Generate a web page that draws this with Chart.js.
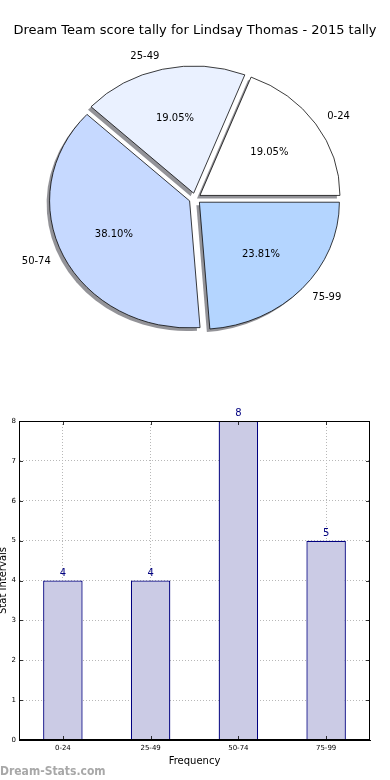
<!DOCTYPE html>
<html><head><meta charset="utf-8">
<script src="https://cdn.jsdelivr.net/npm/chart.js@4"></script>
<style>
html,body{margin:0;padding:0;background:#fff;width:390px;height:780px;overflow:hidden;position:relative;font-family:"DejaVu Sans",sans-serif}
#pieWrap{position:absolute;left:0;top:0;width:390px;height:397px}
#title{position:absolute;left:0;top:21px;width:390px;text-align:center;font-size:13px;line-height:18px;color:#000;white-space:nowrap}
#barWrap{position:absolute;left:0;top:400px;width:390px;height:380px}
#wm{position:absolute;left:0;top:763px;font-family:"DejaVu Sans Condensed","DejaVu Sans",sans-serif;font-stretch:condensed;font-size:12px;line-height:16px;font-weight:bold;color:#a8a8a8;white-space:nowrap}
</style></head><body>
<div id="pieWrap"><canvas id="pie"></canvas></div>
<div id="title">Dream Team score tally for Lindsay Thomas - 2015 tally</div>
<div id="barWrap"><canvas id="bar"></canvas></div>
<div id="wm">Dream-Stats.com</div>
<script>
// ---- data ----
const categories = ['0-24', '25-49', '50-74', '75-99'];
const counts = [4, 4, 8, 5];
const sliceColors = ['#ffffff', '#eaf1ff', '#c6d9ff', '#b4d5ff'];
const yTicks = [0, 1, 2, 3, 4, 5, 6, 7, 8];

Chart.defaults.font.family = '"DejaVu Sans", sans-serif';
Chart.defaults.color = '#000';

const total = counts.reduce((a, b) => a + b, 0);
const pctLabels = counts.map(c => (c / total * 100).toFixed(2) + '%');

// pie drawn counter-clockwise from 3 o'clock (reverse order, clockwise)
const order = [3, 2, 1, 0];
const K = 0.908;      // vertical squash of the pie
const SHIFT = 6;      // explode distance in px
const R = 140;

const pieFx = {
  id: 'pieFx',
  afterDatasetsUpdate(chart) {
    // explode: move each slice centre outward along its mid angle
    chart.getDatasetMeta(0).data.forEach(arc => {
      const mid = (arc.startAngle + arc.endAngle) / 2;
      arc.x += Math.cos(mid) * SHIFT;
      arc.y += Math.sin(mid) * SHIFT;
    });
  },
  beforeDatasetsDraw(chart) {
    const ctx = chart.ctx, a = chart.chartArea;
    const cx = (a.left + a.right) / 2, cy = (a.top + a.bottom) / 2;
    ctx.save();
    ctx.translate(cx, cy); ctx.scale(1, K); ctx.translate(-cx, -cy);
    // shadows
    ctx.save();
    ctx.translate(-3, 3 / K);
    ctx.fillStyle = 'rgba(40,40,50,0.5)';
    chart.getDatasetMeta(0).data.forEach(arc => {
      ctx.beginPath();
      ctx.moveTo(arc.x, arc.y);
      ctx.arc(arc.x, arc.y, arc.outerRadius, arc.startAngle, arc.endAngle);
      ctx.closePath();
      ctx.fill();
    });
    ctx.restore();
  },
  afterDatasetsDraw(chart) {
    const ctx = chart.ctx;
    ctx.restore();
    const a = chart.chartArea;
    const cy = (a.top + a.bottom) / 2;
    const meta = chart.getDatasetMeta(0);
    ctx.save();
    ctx.fillStyle = '#000';
    ctx.font = '10px "DejaVu Sans", sans-serif';
    ctx.textBaseline = 'middle';
    meta.data.forEach((arc, i) => {
      const idx = order[i];
      const mid = (arc.startAngle + arc.endAngle) / 2;
      const c = Math.cos(mid), s = Math.sin(mid);
      const r = arc.outerRadius;
      const ay = cy + (arc.y - cy) * K;
      // outer label
      const dl = r * 1.1;
      ctx.textAlign = c >= 0 ? 'left' : 'right';
      ctx.fillText(categories[idx], arc.x + c * dl, ay + s * dl * K);
      // percentage
      const dp = r * 0.6;
      ctx.textAlign = 'center';
      ctx.fillText(pctLabels[idx], arc.x + c * dp, ay + s * dp * K);
    });
    ctx.restore();
  }
};

new Chart(document.getElementById('pie'), {
  type: 'pie',
  data: {
    labels: order.map(i => categories[i]),
    datasets: [{
      data: order.map(i => counts[i]),
      backgroundColor: order.map(i => sliceColors[i]),
      borderColor: '#000',
      borderWidth: 0.8,
      offset: 0,
      hoverOffset: 0,
      radius: R,
      clip: false
    }]
  },
  options: {
    responsive: true, maintainAspectRatio: false, animation: false, events: [],
    rotation: 90, radius: R,
    layout: { padding: 0 },
    plugins: { legend: { display: false }, tooltip: { enabled: false }, title: { display: false } }
  },
  plugins: [pieFx]
});

const barFx = {
  id: 'barFx',
  afterDraw(chart) {
    const ctx = chart.ctx, a = chart.chartArea;
    const xs = chart.scales.x, ys = chart.scales.y;
    ctx.save();
    // frame
    ctx.strokeStyle = '#000'; ctx.lineWidth = 1;
    ctx.strokeRect(Math.round(a.left) + 0.5, Math.round(a.top) + 0.5, Math.round(a.right - a.left) - 1, Math.round(a.bottom - a.top) - 1);
    // inward ticks
    ctx.lineWidth = 0.8;
    yTicks.forEach(v => {
      const y = Math.round(ys.getPixelForValue(v)) + 0.5;
      ctx.beginPath(); ctx.moveTo(a.left, y); ctx.lineTo(a.left + 4, y);
      ctx.moveTo(a.right, y); ctx.lineTo(a.right - 4, y); ctx.stroke();
    });
    categories.forEach((c, i) => {
      const x = Math.round(xs.getPixelForValue(i)) + 0.5;
      ctx.beginPath(); ctx.moveTo(x, a.bottom); ctx.lineTo(x, a.bottom - 4);
      ctx.moveTo(x, a.top); ctx.lineTo(x, a.top + 4); ctx.stroke();
    });
    // value labels
    const meta = chart.getDatasetMeta(0);
    ctx.fillStyle = '#000080';
    ctx.font = '10px "DejaVu Sans", sans-serif';
    ctx.textAlign = 'center'; ctx.textBaseline = 'alphabetic';
    meta.data.forEach((b, i) => { ctx.fillText(String(counts[i]), b.x, b.y - 5); });
    // axis titles
    ctx.fillStyle = '#000';
    ctx.textBaseline = 'middle';
    ctx.fillText('Frequency', (a.left + a.right) / 2, 361);
    ctx.save();
    ctx.translate(3, (a.top + a.bottom) / 2);
    ctx.rotate(-Math.PI / 2);
    ctx.fillText('Stat Intervals', 0, 0);
    ctx.restore();
    ctx.restore();
  }
};

new Chart(document.getElementById('bar'), {
  type: 'bar',
  data: {
    labels: categories,
    datasets: [{
      data: counts,
      backgroundColor: '#cbcbe5',
      borderColor: '#000080',
      borderWidth: 1.3,
      barPercentage: 0.45,
      categoryPercentage: 1
    }]
  },
  options: {
    responsive: true, maintainAspectRatio: false, animation: false, events: [],
    layout: { padding: { top: 21, right: 20, left: 0, bottom: 0 } },
    plugins: { legend: { display: false }, tooltip: { enabled: false } },
    scales: {
      x: {
        offset: true, z: 1,
        grid: { display: true, offset: false, color: '#b8b8b8', lineWidth: 1, drawTicks: false },
        border: { display: true, color: '#000', dash: [1, 2] },
        ticks: { font: { size: 7 }, padding: 4, color: '#000', maxRotation: 0 },
        afterFit(s) { s.height = 40; }
      },
      y: {
        min: 0, max: 8, z: 1,
        grid: { display: true, color: '#b8b8b8', lineWidth: 1, drawTicks: false },
        border: { display: true, color: '#000', dash: [1, 2] },
        ticks: { stepSize: 1, font: { size: 7 }, padding: 3, color: '#000' },
        afterFit(s) { s.width = 19; }
      }
    }
  },
  plugins: [barFx]
});
</script>
</body></html>
